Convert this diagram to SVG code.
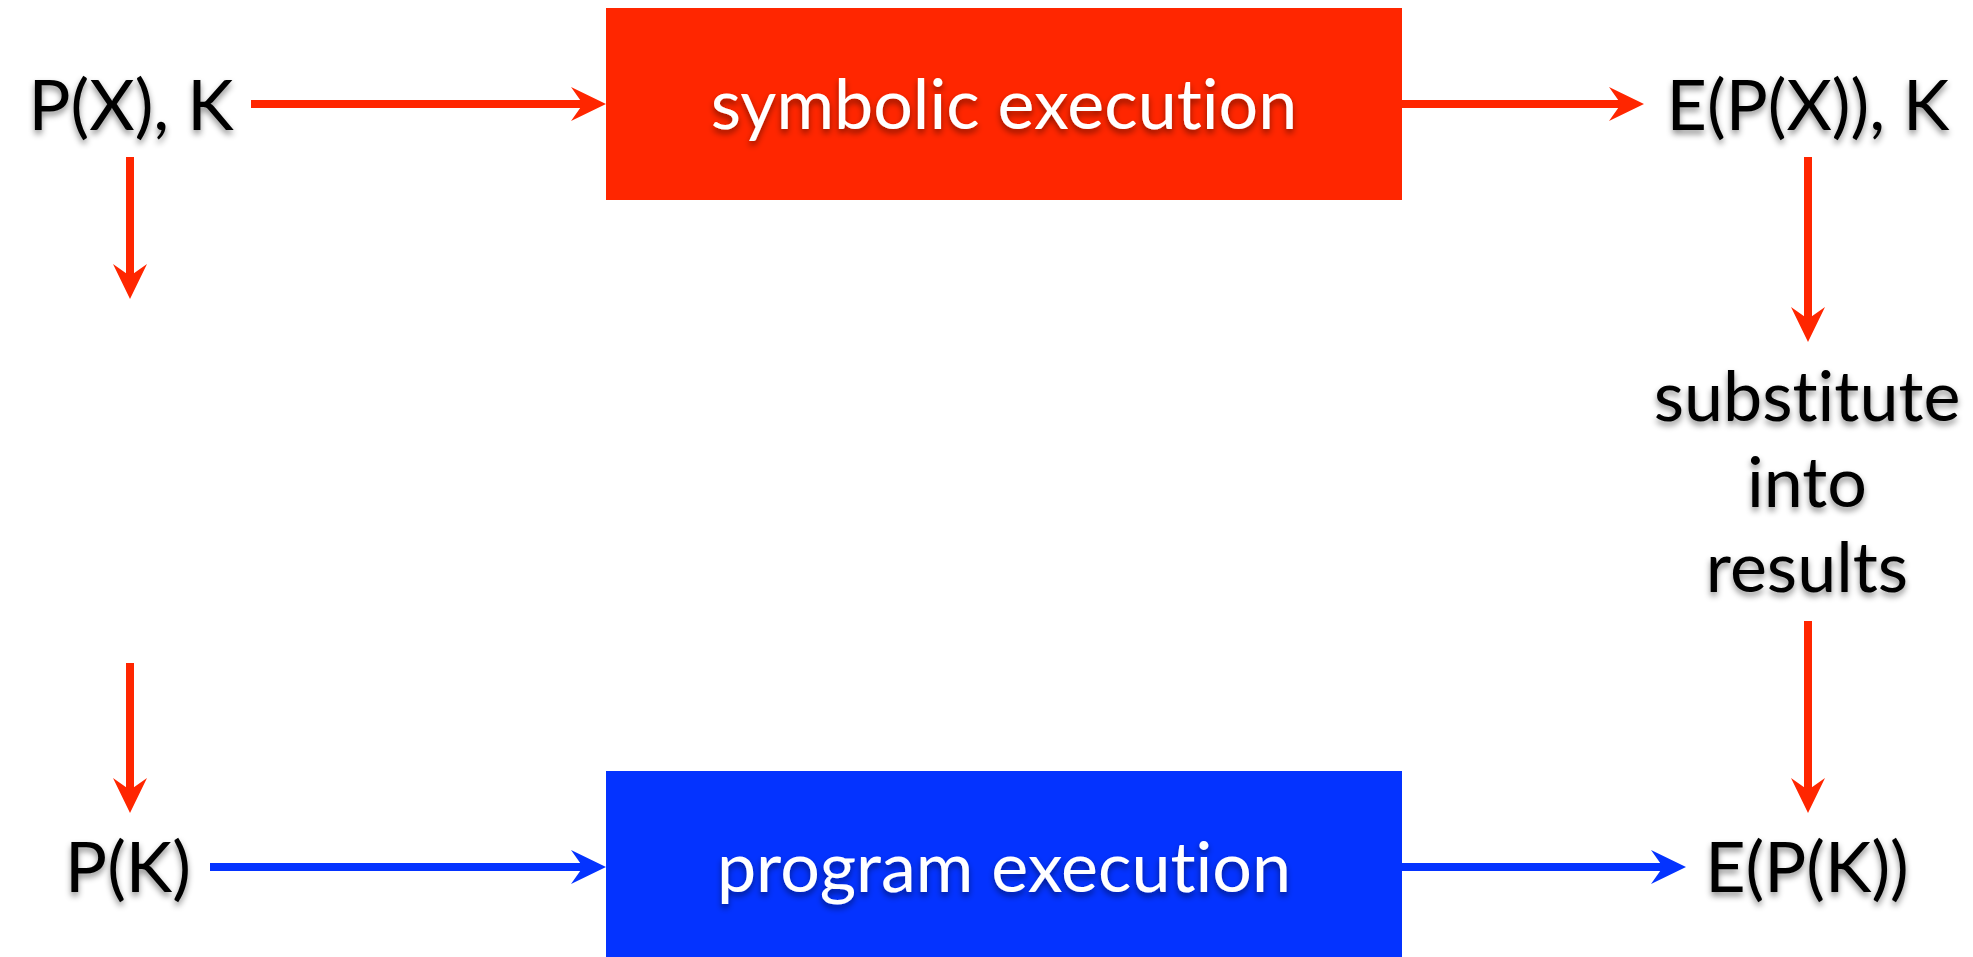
<svg xmlns="http://www.w3.org/2000/svg" width="1973" height="957" viewBox="0 0 1973 957">
<defs>
<style>
.lbl{font-family:Lato,"Open Sans","Liberation Sans",sans-serif;font-size:70px;fill:#000;text-anchor:middle;filter:url(#sh);font-variant-ligatures:none}
.box-t{font-family:Lato,"Open Sans","Liberation Sans",sans-serif;font-size:70px;fill:#fff;text-anchor:middle;filter:url(#sh);font-variant-ligatures:none}
.red{stroke:#FF2600;stroke-width:8;fill:none}
.blue{stroke:#0433FF;stroke-width:8;fill:none}
</style>
<filter id="sh" x="-10%" y="-30%" width="120%" height="160%">
<feDropShadow dx="0" dy="4" stdDeviation="3" flood-color="#000" flood-opacity="0.45"/>
</filter>
<marker id="ahr" markerUnits="userSpaceOnUse" viewBox="0 0 35 34" markerWidth="35" markerHeight="34" refX="12" refY="17" orient="auto">
<path d="M0,0 L35,17 L0,34 L12,17 Z" fill="#FF2600"/>
</marker>
<marker id="ahb" markerUnits="userSpaceOnUse" viewBox="0 0 35 34" markerWidth="35" markerHeight="34" refX="12" refY="17" orient="auto">
<path d="M0,0 L35,17 L0,34 L12,17 Z" fill="#0433FF"/>
</marker>
</defs>
<rect width="1973" height="957" fill="#fff"/>
<g id="connectors">
<line class="red" x1="251" y1="104" x2="583" y2="104" marker-end="url(#ahr)"/>
<line class="red" x1="1401" y1="104" x2="1621" y2="104" marker-end="url(#ahr)"/>
<line class="red" x1="130" y1="157" x2="130" y2="276" marker-end="url(#ahr)"/>
<line class="red" x1="130" y1="663" x2="130" y2="790" marker-end="url(#ahr)"/>
<line class="red" x1="1808" y1="157" x2="1808" y2="319" marker-end="url(#ahr)"/>
<line class="red" x1="1808" y1="621" x2="1808" y2="790" marker-end="url(#ahr)"/>
<line class="blue" x1="210" y1="867" x2="583" y2="867" marker-end="url(#ahb)"/>
<line class="blue" x1="1401" y1="867" x2="1663" y2="867" marker-end="url(#ahb)"/>
</g>
<g id="pxk"><text class="lbl" x="131" y="130">P(X), K</text></g>
<g id="symbolic"><rect x="606" y="8" width="796" height="192" fill="#FF2600"/><text class="box-t" x="1004" y="129">symbolic execution</text></g>
<g id="epxk"><text class="lbl" x="1808" y="130">E(P(X)), K</text></g>
<g id="substitute"><text class="lbl" x="1807" y="421">substitute</text><text class="lbl" x="1807" y="507">into</text><text class="lbl" x="1807" y="592">results</text></g>
<g id="pk"><text class="lbl" x="128" y="892">P(K)</text></g>
<g id="program"><rect x="606" y="771" width="796" height="192" fill="#0433FF"/><text class="box-t" x="1004" y="892">program execution</text></g>
<g id="epk"><text class="lbl" x="1807" y="892">E(P(K))</text></g>
</svg>
